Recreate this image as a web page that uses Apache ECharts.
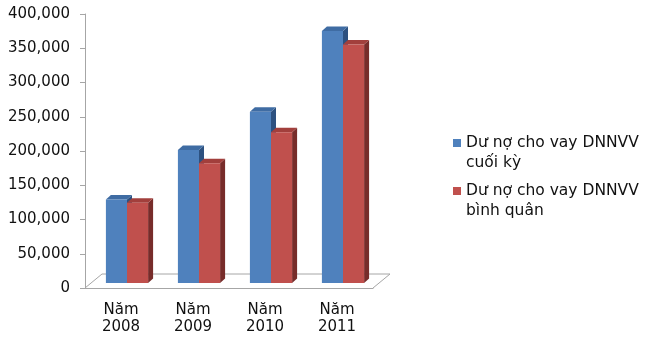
<!DOCTYPE html>
<html>
<head>
<meta charset="utf-8">
<script src="https://cdn.jsdelivr.net/npm/echarts@6/dist/echarts.min.js"></script>
<style>
  html, body { margin: 0; padding: 0; background: #fff; }
  #chart { width: 645px; height: 337px; }
</style>
</head>
<body>
<div id="chart"></div>
<script>
// Dư nợ cho vay DNNVV, 2008–2011
const categories = ['Năm\n2008', 'Năm\n2009', 'Năm\n2010', 'Năm\n2011'];
const seriesNames = ['Dư nợ cho vay DNNVV cuối kỳ', 'Dư nợ cho vay DNNVV bình quân'];
const cuoiKy = [122000, 194000, 250000, 368000];
const binhQuan = [117000, 175000, 220000, 348000];
const yMin = 0, yMax = 400000, yStep = 50000;

// pseudo-3D geometry (pixels)
const FLOOR_DEPTH = [17, -14];   // back edge of floor relative to front edge
const BAR_SHIFT = [6, -5];       // front face of bars sits inside the floor
const BAR_DEPTH = [5, -4.5];     // thickness of each column
const BAR_FRACTION = 0.293;      // width of one column relative to category band

const palette = [
  { front: '#4F81BD', top: '#3F6CA3', side: '#2D5180' },
  { front: '#C0504D', top: '#A23F3C', side: '#772C2A' }
];

const FONT = 'DejaVu Sans';

function barRenderer(idx) {
  const col = palette[idx];
  return function (params, api) {
    const c = api.value(0);
    const v = api.value(1);
    const base = api.coord([c, 0]);
    const top = api.coord([c, v]);
    const band = api.size([1, 0])[0];
    const w = band * BAR_FRACTION;
    const x0 = base[0] + (idx === 0 ? -w : 0) + BAR_SHIFT[0];
    const x1 = x0 + w;
    const yb = base[1] + BAR_SHIFT[1];
    const yt = top[1] + BAR_SHIFT[1];
    const dx = BAR_DEPTH[0], dy = BAR_DEPTH[1];
    return {
      type: 'group',
      children: [
        { type: 'polygon', shape: { points: [[x1, yt], [x1 + dx, yt + dy], [x1 + dx, yb + dy], [x1, yb]] },
          style: { fill: col.side } },
        { type: 'polygon', shape: { points: [[x0, yt], [x1, yt], [x1 + dx, yt + dy], [x0 + dx, yt + dy]] },
          style: { fill: col.top } },
        { type: 'rect', shape: { x: x0, y: yt, width: w, height: yb - yt },
          style: { fill: col.front } }
      ]
    };
  };
}

// floor outline: left, back and right edges (front edge is the x axis line)
function floorRenderer(params, api) {
  const cs = params.coordSys;
  const xl = cs.x, xr = cs.x + cs.width, yf = cs.y + cs.height;
  const dx = FLOOR_DEPTH[0], dy = FLOOR_DEPTH[1];
  return {
    type: 'polyline',
    shape: { points: [[xl, yf], [xl + dx, yf + dy], [xr + dx, yf + dy], [xr, yf]] },
    style: { stroke: '#A6A6A6', lineWidth: 1, fill: null },
    silent: true
  };
}

const chart = echarts.init(document.getElementById('chart'));
chart.setOption({
  animation: false,
  backgroundColor: '#ffffff',
  grid: { left: 85, right: 272, top: 14, bottom: 49, containLabel: false },
  xAxis: {
    type: 'category',
    data: categories,
    boundaryGap: true,
    axisLine: { lineStyle: { color: '#A6A6A6', width: 1 } },
    axisTick: { alignWithLabel: false, length: 4, lineStyle: { color: '#A6A6A6' } },
    axisLabel: { color: '#111', fontFamily: FONT, fontSize: 15, lineHeight: 17.5, margin: 13 },
    splitLine: { show: false }
  },
  yAxis: {
    type: 'value',
    min: yMin, max: yMax, interval: yStep,
    axisLine: { show: true, lineStyle: { color: '#A6A6A6', width: 1 } },
    axisTick: { show: true, length: 5, lineStyle: { color: '#A6A6A6' } },
    axisLabel: {
      color: '#111', fontFamily: FONT, fontSize: 15, margin: 15,
      formatter: v => v.toLocaleString('en-US')
    },
    splitLine: { show: false }
  },
  legend: {
    orient: 'vertical',
    left: 448, top: 108,
    itemWidth: 8, itemHeight: 8, itemGap: -12,
    icon: 'rect',
    data: seriesNames,
    // leading blank line keeps the marker level with the first text line
    formatter: name => ' \n' + name.replace(' DNNVV ', ' DNNVV\n'),
    textStyle: { color: '#111', fontFamily: FONT, fontSize: 15.5, lineHeight: 20 }
  },
  series: [
    {
      type: 'custom', name: 'floor', renderItem: floorRenderer, data: [[0, 0]],
      encode: { x: 0, y: 1 }, silent: true, z: 1
    },
    {
      type: 'custom', name: seriesNames[0], renderItem: barRenderer(0),
      itemStyle: { color: palette[0].front },
      encode: { x: 0, y: 1 },
      data: cuoiKy.map((v, i) => [i, v]), z: 2
    },
    {
      type: 'custom', name: seriesNames[1], renderItem: barRenderer(1),
      itemStyle: { color: palette[1].front },
      encode: { x: 0, y: 1 },
      data: binhQuan.map((v, i) => [i, v]), z: 3
    }
  ]
});
</script>
</body>
</html>
